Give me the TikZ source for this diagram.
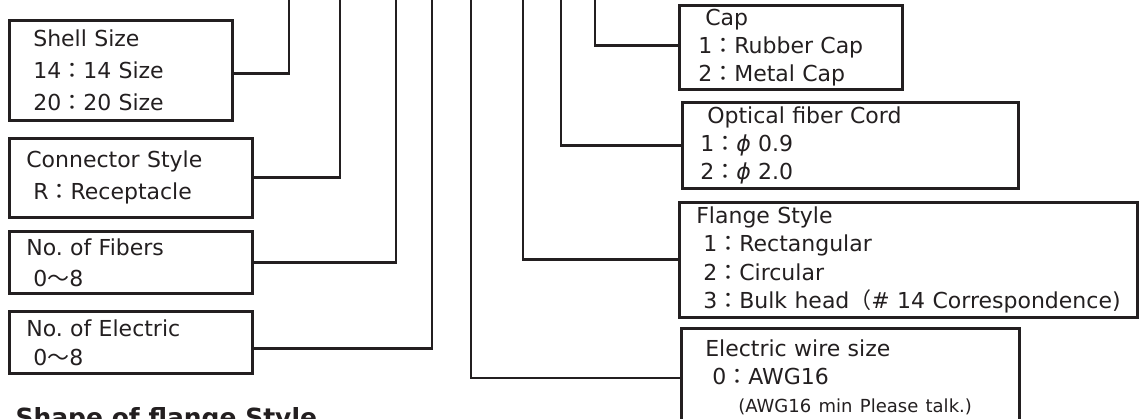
\documentclass[tikz,border=0pt]{standalone}
\usepackage{fontspec}
\setmainfont{DejaVu Sans}
\newfontfamily\cjkfont{Noto Sans CJK JP}
\usepackage{tikz}
\usetikzlibrary{positioning, calc}
\definecolor{ink}{RGB}{35,31,32}
\newcommand{\fcol}{{\cjkfont ：}}   % full width colon
\newcommand{\fwave}{{\cjkfont ～}}  % full width wave dash
\newcommand{\fparen}{{\cjkfont （}}
\newcommand{\dia}{\textit{ϕ}}       % diameter sign
\newcommand{\indt}{\hspace*{7pt}}
\tikzset{%
  specbox/.style={draw=ink, text=ink, line width=2.6pt, rectangle, anchor=north west,
    align=left, inner ysep=0pt, inner xsep=17pt, font=\fontsize{22}{32}\selectfont},
  leader/.style={draw=ink, line width=2.6pt}
}

\begin{document}
\begin{tikzpicture}[x=1pt, y=-1pt]
\useasboundingbox (0,0) rectangle (1139,419);
\clip (0,0) rectangle (1139,419);

% left column of code fields
\node[specbox, text width=189pt, minimum height=100pt] (shell) at (8,19)
  {\indt Shell Size\\ \indt 14\fcol 14 Size\\ \indt 20\fcol 20 Size};
\node[specbox, text width=209pt, minimum height=79pt] (conn) at (8,137)
  {Connector Style\\ \indt R\fcol Receptacle};
\node[specbox, text width=209pt, minimum height=62pt, font=\fontsize{22}{31}\selectfont] (fib) at (8,230)
  {No.\ of Fibers\\ \indt 0\fwave 8};
\node[specbox, text width=209pt, minimum height=62pt, font=\fontsize{22}{29}\selectfont] (elec) at (8,310)
  {No.\ of Electric\\ \indt 0\fwave 8};

\node[anchor=base west, text=ink, font=\fontsize{25}{30}\selectfont\bfseries] (head) at (12,426)
  {Shape of flange Style};

% right column
\node[specbox, inner xsep=19pt, text width=185pt, minimum height=84pt, font=\fontsize{22}{28}\selectfont] (cap) at (678,4)
  {\indt Cap\\ 1\fcol Rubber Cap\\ 2\fcol Metal Cap};
\node[specbox, inner xsep=18pt, text width=300pt, minimum height=86pt, font=\fontsize{22}{28}\selectfont] (opt) at (681,101)
  {\indt Optical fiber Cord\\ 1\fcol\dia\ 0.9\\ 2\fcol\dia\ 2.0};
\node[specbox, text width=424pt, minimum height=115pt, font=\fontsize{22}{28.5}\selectfont] (flange) at (678,201)
  {Flange Style\\ \indt 1\fcol Rectangular\\ \indt 2\fcol Circular\\
   \mbox{\indt 3\fcol Bulk head\fparen\#\ 14 Correspondence)}};
\node[specbox, text width=304pt, minimum height=99pt, font=\fontsize{22}{28}\selectfont] (wire) at (680,327)
  {\indt Electric wire size\\ \indt\indt 0\fcol AWG16\\
   \hspace*{40pt}{\fontsize{18}{28}\selectfont (AWG16 min Please talk.)}};

% free upper ends of the leaders
\coordinate (tShell) at (289,-5);
\coordinate (tConn) at (340,-5);
\coordinate (tFib) at (396,-5);
\coordinate (tElec) at (432,-5);
\coordinate (tWire) at (471,-5);
\coordinate (tFlange) at (523,-5);
\coordinate (tOpt) at (561,-5);
\coordinate (tCap) at (595,-5);

\draw[leader] (tShell) |- ([yshift=-3pt]shell.east);
\draw[leader] (tConn) |- (conn.east);
\draw[leader] (tFib) |- (fib.east);
\draw[leader] (tElec) |- ([yshift=-6pt]elec.east);
\draw[leader] (tWire) |- (wire.west);
\draw[leader] (tFlange) |- (flange.west);
\draw[leader] (tOpt) |- (opt.west);
\draw[leader] (tCap) |- ([yshift=2pt]cap.west);

\end{tikzpicture}
\end{document}
